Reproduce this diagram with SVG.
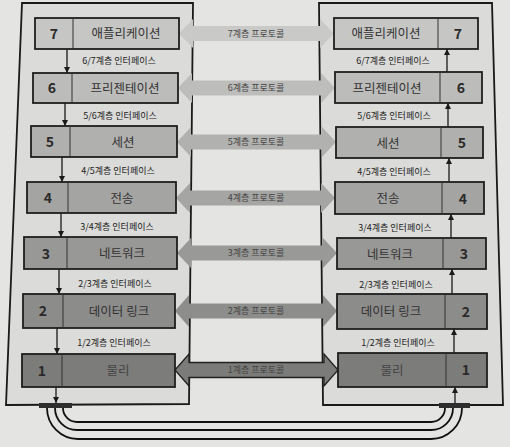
<svg xmlns="http://www.w3.org/2000/svg" width="510" height="447" viewBox="0 0 510 447">
<style>
text{font-family:"Noto Sans CJK KR","Noto Sans",sans-serif}
.box{stroke:#1e1e1e;stroke-width:1.8}
.div{stroke:#333;stroke-width:1}
.lbl{font-size:12.5px;fill:#333;text-anchor:middle}
.num{font-size:14px;font-weight:bold;fill:#2a2a2a;text-anchor:middle}
.itf{font-size:9px;fill:#222;text-anchor:middle}
.pro{font-size:9px;fill:#444;text-anchor:middle}
.frame{fill:#dbdbd9;stroke:#1a1a1a;stroke-width:1.8}
.vl{stroke:#1a1a1a;stroke-width:1.3;fill:none;marker-end:url(#ah)}
.cable{stroke:#111;stroke-width:1.8;fill:none}
</style>
<defs>
<marker id="ah" viewBox="0 0 10 10" refX="10" refY="5" markerWidth="6" markerHeight="6" markerUnits="userSpaceOnUse" orient="auto">
<path d="M0,0 L10,5 L0,10 z" fill="#1a1a1a"/>
</marker>
</defs>
<rect width="510" height="447" fill="#e4e4e2"/>
<g id="frames">
<polygon class="frame" points="22,3 193,3 189,404 6,405"/>
<polygon class="frame" points="319,3 492,3 503,405 323,405"/>
</g>
<g id="connectors">
<g id="protocols">
<polygon fill="#c9c9c7" points="179,33.5 193,19 193,26 320,26 320,19 334,33.5 320,48 320,41 193,41 193,48"/>
<polygon fill="#bdbdbb" points="178,88 192,73 192,80.5 321,80.5 321,73 335,88 321,103 321,95.5 192,95.5 192,103"/>
<polygon fill="#b1b1af" points="177,142 191,127 191,134.5 322,134.5 322,127 336,142 322,157 322,149.5 191,149.5 191,157"/>
<polygon fill="#a5a5a3" points="176,198 190,183 190,190.5 321,190.5 321,183 335,198 321,213 321,205.5 190,205.5 190,213"/>
<polygon fill="#999997" points="177,253 191,238 191,245.5 323,245.5 323,238 337,253 323,268 323,260.5 191,260.5 191,268"/>
<polygon fill="#8d8d8b" points="175,311 189,295 189,303.5 323,303.5 323,295 337,311 323,327 323,318.5 189,318.5 189,327"/>
<polygon fill="#7b7b79" stroke="#222" stroke-width="1.3" points="175,370 189,354 189,362.5 324,362.5 324,354 338,370 324,386 324,377.5 189,377.5 189,386"/>
<text class="pro" x="256" y="36.5">7계층 프로토콜</text>
<text class="pro" x="256" y="91">6계층 프로토콜</text>
<text class="pro" x="256" y="145">5계층 프로토콜</text>
<text class="pro" x="256" y="201">4계층 프로토콜</text>
<text class="pro" x="256" y="256">3계층 프로토콜</text>
<text class="pro" x="256" y="314">2계층 프로토콜</text>
<text class="pro" x="256" y="373">1계층 프로토콜</text>
</g>
<g id="left-interfaces">
<line class="vl" x1="67" y1="49" x2="67" y2="73"/>
<line class="vl" x1="65" y1="103" x2="65" y2="126"/>
<line class="vl" x1="62" y1="157" x2="62" y2="182"/>
<line class="vl" x1="61" y1="213" x2="61" y2="237"/>
<line class="vl" x1="59" y1="269" x2="59" y2="294"/>
<line class="vl" x1="57" y1="328" x2="57" y2="354"/>
<line class="vl" x1="56" y1="387" x2="56" y2="403"/>
<text class="itf" x="119" y="64">6/7계층 인터페이스</text>
<text class="itf" x="120" y="119">5/6계층 인터페이스</text>
<text class="itf" x="118" y="174">4/5계층 인터페이스</text>
<text class="itf" x="117" y="230">3/4계층 인터페이스</text>
<text class="itf" x="115" y="287">2/3계층 인터페이스</text>
<text class="itf" x="114" y="346">1/2계층 인터페이스</text>
</g>
<g id="right-interfaces">
<line class="vl" x1="447" y1="72" x2="447" y2="49"/>
<line class="vl" x1="448" y1="127" x2="448" y2="103"/>
<line class="vl" x1="449" y1="182" x2="449" y2="158"/>
<line class="vl" x1="451" y1="238" x2="451" y2="214"/>
<line class="vl" x1="452" y1="294" x2="452" y2="269"/>
<line class="vl" x1="454" y1="353" x2="454" y2="329"/>
<line class="vl" x1="455" y1="403" x2="455" y2="387"/>
<text class="itf" x="393" y="64">6/7계층 인터페이스</text>
<text class="itf" x="394" y="119">5/6계층 인터페이스</text>
<text class="itf" x="394" y="175">4/5계층 인터페이스</text>
<text class="itf" x="395" y="231">3/4계층 인터페이스</text>
<text class="itf" x="396" y="288">2/3계층 인터페이스</text>
<text class="itf" x="398" y="346">1/2계층 인터페이스</text>
</g>
<g id="cables">
<path class="cable" d="M63,408 A14,14 0 0 0 77,422 L431,422 A14,14 0 0 0 445,408"/>
<path class="cable" d="M55,408 A22,22 0 0 0 77,430 L431,430 A22,22 0 0 0 453,408"/>
<path class="cable" d="M47,408 A31,31 0 0 0 78,439 L431,439 A31,31 0 0 0 462,408"/>
<rect x="39" y="403" width="33" height="5" fill="#2e2e2e"/>
<rect x="439" y="403" width="31" height="5" fill="#2e2e2e"/>
</g>
</g>
<g id="L7"><rect class="box" x="35" y="18" width="144" height="31" fill="#c6c6c4"/><line class="div" x1="73" y1="18" x2="73" y2="49"/><text class="num" x="54" y="39">7</text><text class="lbl" x="126" y="38">애플리케이션</text></g>
<g id="L6"><rect class="box" x="33" y="73" width="145" height="30" fill="#bcbcba"/><line class="div" x1="72" y1="73" x2="72" y2="103"/><text class="num" x="52" y="93">6</text><text class="lbl" x="125" y="92.5">프리젠테이션</text></g>
<g id="L5"><rect class="box" x="31" y="126" width="146" height="31" fill="#b0b0ae"/><line class="div" x1="70" y1="126" x2="70" y2="157"/><text class="num" x="50" y="147">5</text><text class="lbl" x="123" y="146.5">세션</text></g>
<g id="L4"><rect class="box" x="27" y="182" width="149" height="31" fill="#a4a4a2"/><line class="div" x1="68" y1="182" x2="68" y2="213"/><text class="num" x="48" y="203">4</text><text class="lbl" x="122" y="202.5">전송</text></g>
<g id="L3"><rect class="box" x="24" y="237" width="153" height="32" fill="#989896"/><line class="div" x1="67" y1="237" x2="67" y2="269"/><text class="num" x="46" y="258.5">3</text><text class="lbl" x="122" y="258">네트워크</text></g>
<g id="L2"><rect class="box" x="23" y="294" width="152" height="34" fill="#8c8c8a"/><line class="div" x1="63" y1="294" x2="63" y2="328"/><text class="num" x="43" y="316">2</text><text class="lbl" x="119" y="315.5">데이터 링크</text></g>
<g id="L1"><rect class="box" x="22" y="354" width="153" height="33" fill="#7c7c7a"/><line class="div" x1="62" y1="354" x2="62" y2="387"/><text class="num" x="42" y="375.5" fill="#444">1</text><text class="lbl" x="118" y="375" style="fill:#444">물리</text></g>
<g id="R7"><rect class="box" x="334" y="18" width="144" height="31" fill="#c6c6c4"/><line class="div" x1="438" y1="18" x2="438" y2="49"/><text class="num" x="458" y="39">7</text><text class="lbl" x="386" y="38">애플리케이션</text></g>
<g id="R6"><rect class="box" x="335" y="72" width="147" height="31" fill="#bcbcba"/><line class="div" x1="440" y1="72" x2="440" y2="103"/><text class="num" x="461" y="93">6</text><text class="lbl" x="387" y="92.5">프리젠테이션</text></g>
<g id="R5"><rect class="box" x="336" y="127" width="147" height="31" fill="#b0b0ae"/><line class="div" x1="441" y1="127" x2="441" y2="158"/><text class="num" x="462" y="148">5</text><text class="lbl" x="388" y="147.5">세션</text></g>
<g id="R4"><rect class="box" x="335" y="182" width="149" height="32" fill="#a4a4a2"/><line class="div" x1="442" y1="182" x2="442" y2="214"/><text class="num" x="463" y="203.5">4</text><text class="lbl" x="388" y="203">전송</text></g>
<g id="R3"><rect class="box" x="337" y="238" width="149" height="31" fill="#989896"/><line class="div" x1="443" y1="238" x2="443" y2="269"/><text class="num" x="464" y="259">3</text><text class="lbl" x="390" y="258.5">네트워크</text></g>
<g id="R2"><rect class="box" x="337" y="294" width="150" height="35" fill="#8c8c8a"/><line class="div" x1="445" y1="294" x2="445" y2="329"/><text class="num" x="466" y="316.5">2</text><text class="lbl" x="391" y="316">데이터 링크</text></g>
<g id="R1"><rect class="box" x="338" y="353" width="149" height="34" fill="#7c7c7a"/><line class="div" x1="446" y1="353" x2="446" y2="387"/><text class="num" x="466" y="375" fill="#444">1</text><text class="lbl" x="392" y="374.5" style="fill:#444">물리</text></g>
</svg>
